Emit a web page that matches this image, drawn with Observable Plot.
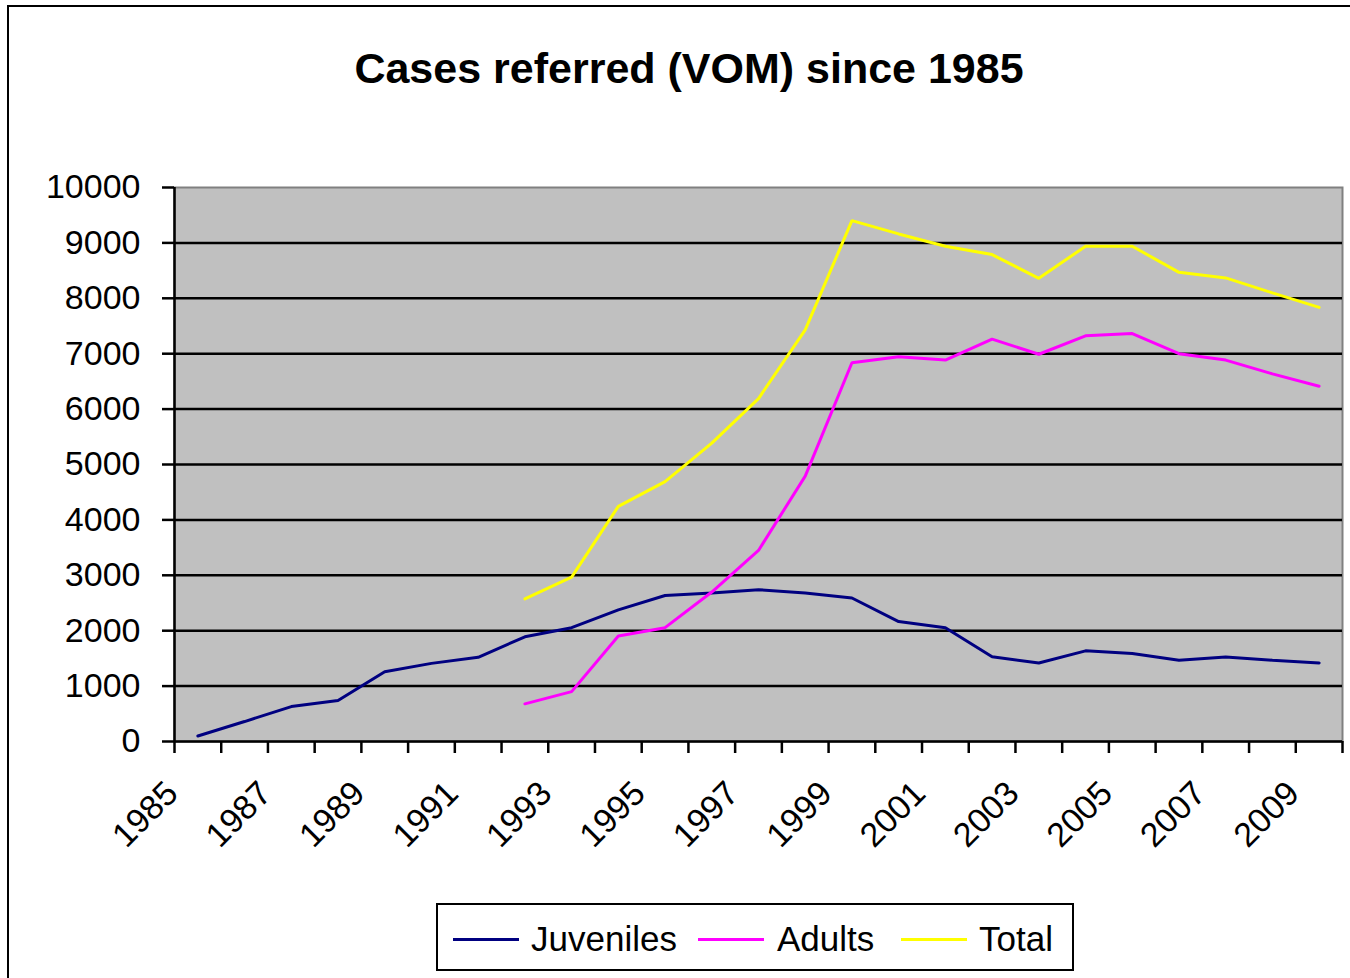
<!DOCTYPE html>
<html><head><meta charset="utf-8">
<script src="https://cdn.jsdelivr.net/npm/d3@7"></script>
<script src="https://cdn.jsdelivr.net/npm/@observablehq/plot@0.6"></script>
<style>
html,body{margin:0;padding:0;background:#fff;overflow:hidden;}
#wrap{position:relative;width:1350px;height:978px;overflow:hidden;font-family:"Liberation Sans",Arial,sans-serif;color:#000;}
#frame{position:absolute;left:7px;top:5px;width:1400px;height:1100px;border:2px solid #000;box-sizing:border-box;}
#title{position:absolute;left:0;width:1378px;top:47px;text-align:center;font-weight:bold;font-size:43px;line-height:43px;white-space:nowrap;}
#chart{position:absolute;left:0;top:0;}
#legend{position:absolute;left:436px;top:903px;width:638px;height:68px;border:2px solid #000;box-sizing:border-box;background:#fff;}
.sw{position:absolute;top:34px;height:0;border-top:3px solid;width:66px;margin-top:-1px;}
.lt{position:absolute;top:14px;font-size:35px;line-height:40px;white-space:nowrap;}
</style></head>
<body>
<div id="wrap">
  <div id="frame"></div>
  <div id="chart"></div>
  <div id="title"></div>
  <div id="legend"></div>
</div>
<script>
const titleText = "Cases referred (VOM) since 1985";
const years = [1985,1986,1987,1988,1989,1990,1991,1992,1993,1994,1995,1996,1997,1998,1999,2000,2001,2002,2003,2004,2005,2006,2007,2008,2009];
const labelYears = [1985,1987,1989,1991,1993,1995,1997,1999,2001,2003,2005,2007,2009];
const yTicks = [0,1000,2000,3000,4000,5000,6000,7000,8000,9000,10000];
const seriesNames = ["Juveniles","Adults","Total"];
const seriesColors = ["#000080","#FF00FF","#FFFF00"];
const juveniles = [100,360,630,740,1260,1410,1520,1890,2055,2375,2635,2680,2740,2680,2590,2165,2055,1530,1418,1636,1587,1467,1527,1467,1418];
const adults = [null,null,null,null,null,null,null,680,900,1904,2055,2698,3449,4790,6836,6945,6885,7262,6990,7322,7364,7000,6885,6636,6413];
const total = [null,null,null,null,null,null,null,2575,2968,4245,4690,5386,6190,7430,9403,9162,8939,8789,8361,8939,8939,8469,8368,8097,7836];

const seriesValues = [juveniles, adults, total];
const rows = [];
seriesNames.forEach((s, k) => {
  years.forEach((yr, i) => {
    const v = seriesValues[k][i];
    if (v != null) rows.push({series: s, year: yr, value: v});
  });
});
const boundaries = years.map(y => y - 0.5).concat([years[years.length - 1] + 0.5]);
const gridVals = yTicks.slice(1, -1);

const chart = Plot.plot({
  width: 1350,
  height: 978,
  marginLeft: 174,
  marginRight: 8,
  marginTop: 187,
  marginBottom: 237,
  style: {fontFamily: "Liberation Sans, Arial, sans-serif", color: "#000", background: "transparent", overflow: "visible"},
  x: {domain: [boundaries[0], boundaries[boundaries.length - 1]]},
  y: {domain: [yTicks[0], yTicks[yTicks.length - 1]]},
  color: {domain: seriesNames, range: seriesColors},
  marks: [
    Plot.frame({fill: "#C0C0C0", stroke: "#808080", strokeWidth: 2}),
    Plot.ruleY(gridVals, {stroke: "#000", strokeWidth: 2.5}),
    Plot.ruleY([yTicks[0]], {stroke: "#000", strokeWidth: 2.5}),
    Plot.ruleX([boundaries[0]], {stroke: "#000", strokeWidth: 2.5}),
    Plot.axisY({ticks: yTicks, tickSize: 12, tickPadding: 22, fontSize: 34, tickFormat: d => String(d), strokeWidth: 2.5, label: null}),
    Plot.axisX({ticks: boundaries, tickSize: 12, tickFormat: () => "", strokeWidth: 2.5, label: null}),
    Plot.text(labelYears, {x: d => d, text: d => String(d), frameAnchor: "bottom", rotate: -45, textAnchor: "end", dx: -18, dy: 54, fontSize: 34, fill: "#000"}),
    Plot.line(rows, {x: "year", y: "value", z: "series", stroke: "series", strokeWidth: 3, strokeLinejoin: "miter"})
  ]
});
document.getElementById("chart").appendChild(chart);
document.getElementById("title").textContent = titleText;

const legendPos = [{sw: 15, tx: 93}, {sw: 260, tx: 339}, {sw: 463, tx: 541}];
const legend = document.getElementById("legend");
seriesNames.forEach((s, i) => {
  const sw = document.createElement("div");
  sw.className = "sw";
  sw.style.left = legendPos[i].sw + "px";
  sw.style.borderTopColor = seriesColors[i];
  legend.appendChild(sw);
  const t = document.createElement("div");
  t.className = "lt";
  t.style.left = legendPos[i].tx + "px";
  t.textContent = s;
  legend.appendChild(t);
});
</script>
</body></html>
